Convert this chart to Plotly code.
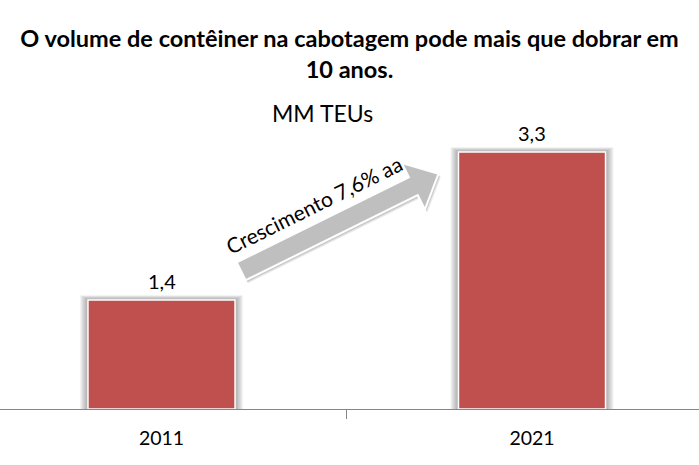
import math
import plotly.graph_objects as go

# ---- data ----
categories = ["2011", "2021"]
values = [1.4, 3.3]
value_labels = ["1,4", "3,3"]
title_text = "O volume de contêiner na cabotagem pode mais que dobrar em<br>10 anos."
unit_text = "MM TEUs"
arrow_text = "Crescimento 7,6% aa"

# ---- layout constants ----
W, H = 699, 465
M_T, M_B = 100, 56
BASE_PX = H - M_B              # y pixel of the baseline
PX_PER_UNIT_Y = 77.9
X0_PX, PX_PER_CAT = 161.5, 370.5
BAR_W = 0.397
FONT = "Lato"
BAR_COLOR = "#C0504D"

x_range = [-X0_PX / PX_PER_CAT, (W - X0_PX) / PX_PER_CAT]
y_max = (BASE_PX - M_T) / PX_PER_UNIT_Y


def to_data(px, py):
    return ((px - X0_PX) / PX_PER_CAT, (BASE_PX - py) / PX_PER_UNIT_Y)


def paper_y(py):
    return (BASE_PX - py) / (BASE_PX - M_T)


fig = go.Figure()
fig.add_trace(go.Bar(
    x=list(range(len(categories))), y=values, width=BAR_W,
    marker=dict(color=BAR_COLOR, line=dict(color="white", width=1.5)),
    hoverinfo="skip",
))

shapes = []
# soft glow shadow behind bars
for i, v in enumerate(values):
    for k in range(1, 9):
        dx = k / PX_PER_CAT
        dy = (k * 0.6) / PX_PER_UNIT_Y
        shapes.append(dict(type="rect", xref="x", yref="y", layer="below",
                           x0=i - BAR_W / 2 - dx, x1=i + BAR_W / 2 + dx,
                           y0=0, y1=v + dy,
                           fillcolor="rgba(70,70,70,0.065)", line=dict(width=0)))

# growth arrow (decoration) defined in pixel geometry
tail = (241.2, 271.3)
ang = math.radians(26.3)
d = (math.cos(ang), -math.sin(ang))
n = (math.sin(ang), math.cos(ang))
L, sw, hw, hl = 220, 10, 26, 28
local = [(0, -sw), (L - hl, -sw), (L - hl, -hw), (L, 0), (L - hl, hw), (L - hl, sw), (0, sw)]


def arrow_path(off=(0, 0)):
    pts = []
    for u, v in local:
        px = tail[0] + u * d[0] + v * n[0] + off[0]
        py = tail[1] + u * d[1] + v * n[1] + off[1]
        pts.append(to_data(px, py))
    return "M " + " L ".join(f"{x:.5f},{y:.5f}" for x, y in pts) + " Z"


for off, op in [((2.5, 3), 0.15), ((1.5, 2), 0.25)]:
    shapes.append(dict(type="path", xref="x", yref="y", path=arrow_path(off),
                       fillcolor=f"rgba(110,110,110,{op})", line=dict(width=0)))
shapes.append(dict(type="path", xref="x", yref="y", path=arrow_path(),
                   fillcolor="#BFBFBF", line=dict(color="white", width=2)))

tx, ty = to_data(tail[0] + 95 * d[0] - 28 * n[0], tail[1] + 95 * d[1] - 28 * n[1])

annotations = [
    dict(text=unit_text, x=322 / W, xref="paper", y=paper_y(113), yref="paper",
         showarrow=False, font=dict(family=FONT, size=23, color="black"),
         xanchor="center", yanchor="middle"),
    dict(text=arrow_text, x=tx, y=ty, xref="x", yref="y", showarrow=False,
         textangle=-26.3, font=dict(family=FONT, size=21, color="black"),
         xanchor="center", yanchor="middle"),
]
for i, (v, lab) in enumerate(zip(values, value_labels)):
    annotations.append(dict(text=lab, x=i, y=v, xref="x", yref="y", showarrow=False,
                            xanchor="center", yanchor="bottom", yshift=5,
                            font=dict(family=FONT, size=20, color="black")))

fig.update_layout(
    width=W, height=H, autosize=False,
    margin=dict(l=0, r=0, t=M_T, b=M_B),
    paper_bgcolor="white", plot_bgcolor="white",
    showlegend=False,
    title=dict(text=title_text, x=0.5, xanchor="center",
               y=1 - 47 / H, yref="container", yanchor="middle",
               font=dict(family=FONT, size=23.5, color="black", weight="bold")),
    xaxis=dict(range=x_range, tickmode="array",
               tickvals=list(range(len(categories))), ticktext=categories,
               showgrid=False, zeroline=False, showline=True, linecolor="#868686",
               linewidth=1, ticks="", ticklabelstandoff=12,
               minor=dict(tickmode="array", tickvals=[0.5], ticks="outside",
                          ticklen=9, tickcolor="#868686", showgrid=False),
               tickfont=dict(family=FONT, size=19.5, color="black"), fixedrange=True),
    yaxis=dict(range=[0, y_max], visible=False, fixedrange=True),
    shapes=shapes, annotations=annotations,
)

fig.write_html("out.html")
